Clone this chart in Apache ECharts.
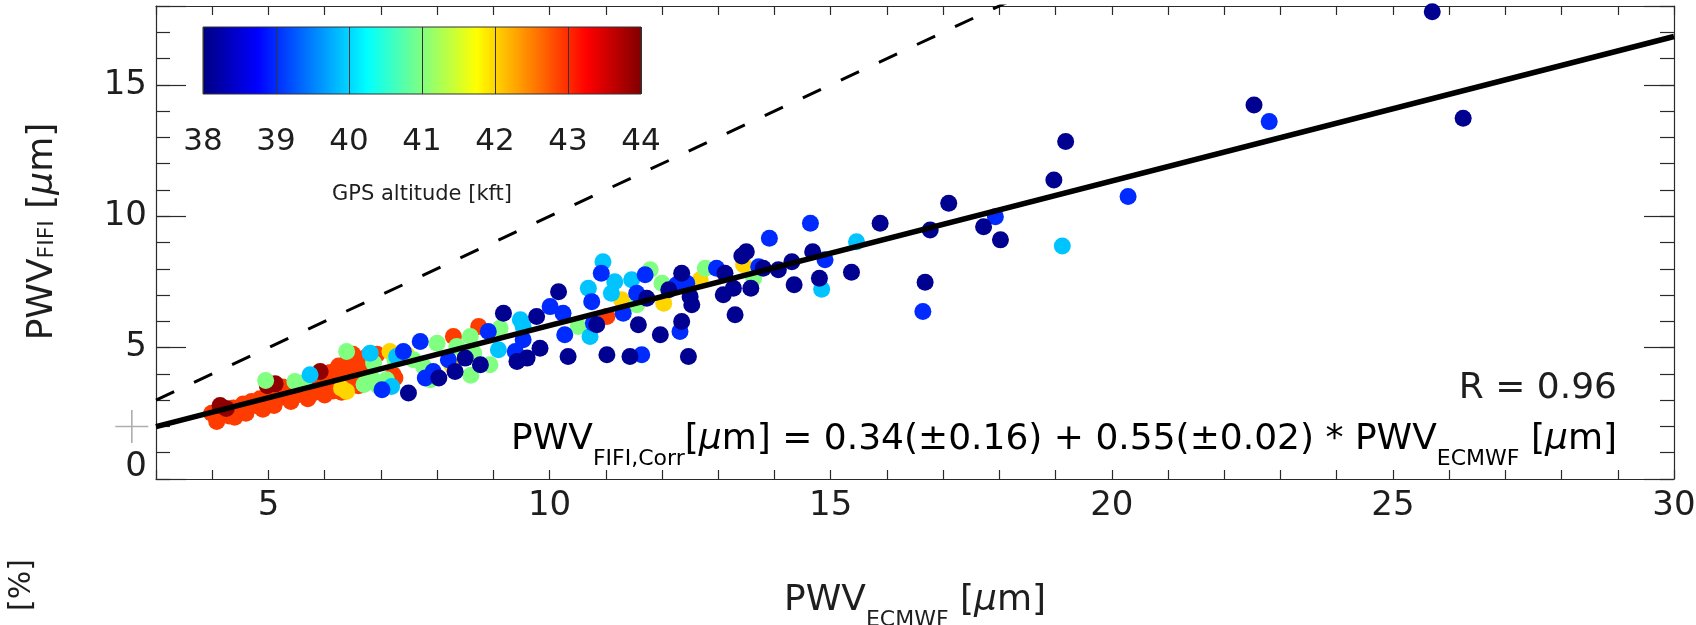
<!DOCTYPE html>
<html>
<head>
<meta charset="utf-8">
<script src="https://cdn.jsdelivr.net/npm/echarts@6/dist/echarts.min.js"></script>
<style>
  html, body { margin: 0; padding: 0; background: #ffffff; }
  #chart { width: 1696px; height: 625px; }
</style>
</head>
<body>
<div id="chart"></div>
<script>
// Precipitable water vapour: ECMWF model (x) vs FIFI-LS retrieval (y), in µm,
// grouped by the GPS altitude (kft) of the aircraft at the time of measurement.

const alt42_9 = [
  [3.99, 2.50], [4.08, 2.19], [4.10, 2.45], [4.22, 2.55], [4.30, 2.40], [4.38, 2.70],
  [4.40, 2.35], [4.45, 2.55], [4.55, 2.85], [4.60, 2.50], [4.62, 2.68], [4.70, 2.95],
  [4.78, 2.80], [4.85, 3.05], [4.90, 2.65], [4.92, 2.90], [5.00, 3.20], [5.05, 3.00],
  [5.10, 2.80], [5.15, 3.30], [5.20, 3.10], [5.25, 3.50], [5.28, 3.45], [5.35, 3.15],
  [5.40, 2.95], [5.42, 3.35], [5.50, 3.20], [5.55, 3.55], [5.62, 3.30], [5.70, 3.45],
  [5.70, 3.05], [5.78, 3.25], [5.85, 3.60], [5.90, 3.40], [5.95, 3.90], [5.98, 3.80],
  [6.00, 3.20], [6.05, 3.50], [6.10, 4.05], [6.15, 3.35], [6.20, 3.75], [6.25, 4.30],
  [6.30, 3.60], [6.30, 3.30], [6.35, 4.00], [6.42, 4.55], [6.48, 3.80], [6.50, 4.75],
  [6.55, 4.25], [6.60, 3.55], [6.65, 4.45], [6.72, 4.00], [6.75, 4.65], [6.80, 3.75],
  [6.93, 4.75], [7.22, 3.97], [7.25, 3.84], [8.29, 5.42], [8.74, 5.80], [11.02, 6.18]
];
const alt43_9 = [[4.14, 2.80], [4.25, 2.68], [4.98, 3.55], [5.12, 3.62], [5.92, 4.09]];
const alt42_0 = [
  [6.39, 3.33], [6.30, 3.45], [7.16, 4.85], [7.46, 4.73], [8.26, 4.35],
  [11.28, 6.82], [12.03, 6.69], [12.68, 7.58], [13.45, 8.15]
];
const alt41_0 = [
  [4.95, 3.75], [5.47, 3.71], [5.62, 3.65], [6.39, 4.85], [6.70, 3.60], [6.84, 3.84],
  [6.87, 4.41], [6.95, 3.55], [7.10, 3.78], [7.25, 4.54], [7.58, 4.54], [7.76, 4.28],
  [7.88, 3.78], [8.00, 5.17], [8.35, 5.04], [8.59, 5.42], [8.60, 3.95], [8.65, 4.79],
  [8.94, 4.35], [9.12, 5.74], [10.51, 5.80], [11.55, 6.63], [11.79, 7.96], [12.00, 7.45],
  [12.77, 8.02], [13.63, 7.64]
];
const alt39_9 = [
  [5.74, 3.97], [6.81, 4.79], [7.19, 3.52], [7.28, 4.66], [9.09, 4.92], [9.48, 6.06],
  [9.53, 5.80], [10.69, 7.26], [10.72, 5.42], [10.95, 8.27], [11.10, 7.07], [11.16, 7.51],
  [11.46, 7.58], [14.84, 7.22], [15.46, 9.03], [19.12, 8.87]
];
const alt39_0 = [
  [7.02, 3.40], [7.40, 4.85], [7.70, 5.23], [7.79, 3.84], [7.93, 4.09], [8.20, 4.54],
  [8.91, 5.61], [9.39, 4.85], [9.53, 5.30], [10.01, 6.56], [10.24, 6.31], [10.27, 5.49],
  [10.75, 6.75], [10.78, 5.93], [10.92, 7.83], [11.31, 6.31], [11.55, 7.07], [11.64, 4.73],
  [11.70, 7.77], [12.26, 7.39], [12.32, 5.61], [12.44, 7.45], [12.97, 8.02], [13.72, 8.08],
  [13.91, 9.16], [14.64, 9.73], [14.90, 8.34], [16.64, 6.37], [17.93, 9.98], [20.29, 10.75],
  [22.80, 13.60]
];
const alt38_1 = [
  [7.49, 3.27], [8.03, 3.84], [8.32, 4.09], [8.50, 4.60], [8.77, 4.35], [9.18, 6.31],
  [9.42, 4.47], [9.60, 4.60], [9.77, 6.18], [9.83, 4.98], [10.16, 7.13], [10.33, 4.66],
  [10.84, 5.87], [11.02, 4.73], [11.43, 4.66], [11.58, 5.87], [11.73, 6.88], [11.97, 5.49],
  [12.12, 7.20], [12.35, 5.99], [12.35, 7.83], [12.47, 4.66], [12.50, 6.94], [12.53, 6.63],
  [13.09, 7.01], [13.12, 7.83], [13.27, 7.26], [13.30, 6.25], [13.42, 8.49], [13.50, 8.65],
  [13.58, 7.26], [13.80, 8.02], [14.07, 7.96], [14.31, 8.27], [14.35, 7.39], [14.68, 8.65],
  [14.80, 7.64], [15.37, 7.87], [15.88, 9.73], [16.68, 7.49], [16.77, 9.48], [17.10, 10.49],
  [17.72, 9.60], [18.02, 9.10], [18.97, 11.38], [19.18, 12.84], [22.53, 14.23], [25.70, 17.78],
  [26.25, 13.73]
];

// drawing order: later groups are painted on top
const altitudeGroups = [
  [42.9, alt42_9], [43.9, alt43_9], [42.0, alt42_0], [41.0, alt41_0],
  [39.9, alt39_9], [39.0, alt39_0], [38.1, alt38_1]
];

// linear fit of FIFI against ECMWF
const fitIntercept = 0.34, fitInterceptErr = 0.16;
const fitSlope = 0.55, fitSlopeErr = 0.02;
const corrR = 0.96;

// axes
const xRange = [3, 30];
const yRange = [0, 18];
const xLabelValues = [5, 10, 15, 20, 25, 30];
const yLabelValues = [0, 5, 10, 15];
const colorbarRange = [38, 44];
const colorbarTicks = [38, 39, 40, 41, 42, 43, 44];

// side marker just left of the frame
const sideMark = [[2.57, 2.0]];

// jet colour table sampled every 1/8
const jetColors = ['#000080', '#0000ff', '#0080ff', '#00ffff', '#80ff80',
                   '#ffff00', '#ff8000', '#ff0000', '#800000'];

const FONT = "'DejaVu Sans', 'Liberation Sans', sans-serif";
const INK = '#1e1e1e';
const FRAME = '#2a2a2a';

const scatterData = [];
altitudeGroups.forEach(([alt, pts]) => pts.forEach(p => scatterData.push([p[0], p[1], alt])));

const fitLine = xRange.map(x => [x, fitIntercept + fitSlope * x]);
const oneToOne = xRange.map(x => [x, x]);

const richBase = {
  m: { fontSize: 36, fontFamily: FONT, color: INK },
  mu: { fontSize: 36, fontFamily: FONT, color: INK, fontStyle: 'italic' },
  s: { fontSize: 22, fontFamily: FONT, color: INK, verticalAlign: 'middle', padding: [38, 0, 0, 0] },
  sy: { fontSize: 22, fontFamily: FONT, color: INK, verticalAlign: 'middle', padding: [8, 0, 0, 0] },
  z: { fontSize: 34, fontFamily: FONT, color: INK, padding: [0, 0, 24, 0] }
};

const fmt = v => v.toFixed(2);
const equationText =
  '{m|PWV}{s|FIFI,Corr}{m|[}{mu|μ}{m|m] = ' + fmt(fitIntercept) + '(±' + fmt(fitInterceptErr) +
  ') + ' + fmt(fitSlope) + '(±' + fmt(fitSlopeErr) + ') * PWV}{s|ECMWF}{m| [}{mu|μ}{m|m]}';

const frameAxis = {
  type: 'value', gridIndex: 0,
  axisLine: { show: true, onZero: false, lineStyle: { color: FRAME, width: 1.2 } },
  axisTick: { show: true, inside: true, lineStyle: { color: FRAME, width: 1.2 } },
  splitLine: { show: false },
  axisLabel: { show: false }
};

const chart = echarts.init(document.getElementById('chart'), null, { renderer: 'canvas' });

chart.setOption({
  backgroundColor: '#ffffff',
  animation: false,
  grid: [
    { left: 156, right: 22, top: 6, bottom: 146, outerBoundsMode: 'none' },
    {
      left: 203, top: 27, width: 438, height: 67, show: true, outerBoundsMode: 'none',
      borderColor: '#333333', borderWidth: 1,
      backgroundColor: new echarts.graphic.LinearGradient(0, 0, 1, 0,
        jetColors.map((c, i) => ({ offset: i / (jetColors.length - 1), color: c })))
    }
  ],
  xAxis: [
    Object.assign({}, frameAxis, {
      position: 'bottom', min: xRange[0], max: xRange[1], interval: 1,
      axisTick: { show: true, inside: true, length: 9, lineStyle: { color: FRAME, width: 1.2 } },
      axisLabel: {
        show: true, margin: 10, fontSize: 34, fontFamily: FONT, color: INK,
        formatter: v => (xLabelValues.includes(v) ? String(v) : '')
      },
      name: '{m|PWV}{s|ECMWF}{m| [}{mu|μ}{m|m]}',
      nameLocation: 'middle', nameGap: 92, nameMoveOverlap: false,
      nameTextStyle: { rich: richBase }
    }),
    Object.assign({}, frameAxis, {
      position: 'top', min: xRange[0], max: xRange[1], interval: 1,
      axisTick: { show: true, inside: true, length: 9, lineStyle: { color: FRAME, width: 1.2 } }
    }),
    {
      type: 'value', gridIndex: 1, position: 'bottom',
      min: colorbarRange[0], max: colorbarRange[1], interval: 1,
      axisLine: { show: false }, axisTick: { show: false },
      splitLine: { show: true, lineStyle: { color: '#333333', width: 1 } },
      axisLabel: {
        show: true, margin: 32, fontSize: 31, fontFamily: FONT, color: INK,
        formatter: v => (colorbarTicks.includes(v) ? String(v) : '')
      },
      name: 'GPS altitude [kft]', nameLocation: 'middle', nameGap: 90, nameMoveOverlap: false,
      nameTextStyle: { fontSize: 21, fontFamily: FONT, color: INK }
    }
  ],
  yAxis: [
    Object.assign({}, frameAxis, {
      position: 'left', min: yRange[0], max: yRange[1], interval: 1,
      axisTick: { show: true, inside: true, length: 14, lineStyle: { color: FRAME, width: 1.2 } },
      axisLabel: {
        show: true, margin: 9, fontSize: 34, fontFamily: FONT, color: INK,
        formatter: v => (v === 0 ? '{z|0}' : (yLabelValues.includes(v) ? String(v) : '')),
        rich: { z: richBase.z }
      },
      name: '{m|PWV}{sy|FIFI}{m| [}{mu|μ}{m|m]}',
      nameLocation: 'middle', nameGap: 95, nameMoveOverlap: false,
      nameTextStyle: { rich: richBase, padding: [0, 0, 0, 22] }
    }),
    Object.assign({}, frameAxis, {
      position: 'left', min: yRange[0], max: yRange[1], interval: 5,
      axisLine: { show: false },
      axisTick: { show: true, inside: true, length: 30, lineStyle: { color: FRAME, width: 1.2 } }
    }),
    Object.assign({}, frameAxis, {
      position: 'right', min: yRange[0], max: yRange[1], interval: 1,
      axisTick: { show: true, inside: true, length: 14, lineStyle: { color: FRAME, width: 1.2 } }
    }),
    Object.assign({}, frameAxis, {
      position: 'right', min: yRange[0], max: yRange[1], interval: 5,
      axisLine: { show: false },
      axisTick: { show: true, inside: true, length: 30, lineStyle: { color: FRAME, width: 1.2 } }
    }),
    { type: 'value', gridIndex: 1, min: 0, max: 1, show: false }
  ],
  visualMap: {
    type: 'continuous', show: false, seriesIndex: 0, dimension: 2,
    min: colorbarRange[0], max: colorbarRange[1],
    inRange: { color: jetColors }
  },
  series: [
    {
      name: 'PWV', type: 'scatter', xAxisIndex: 0, yAxisIndex: 0,
      data: scatterData, symbol: 'circle', symbolSize: 17, z: 2,
      itemStyle: { opacity: 1 }
    },
    {
      name: 'fit', type: 'line', xAxisIndex: 0, yAxisIndex: 0, data: fitLine,
      symbol: 'none', z: 4, silent: true,
      lineStyle: { color: '#000000', width: 5.5 }
    },
    {
      name: '1:1', type: 'line', xAxisIndex: 0, yAxisIndex: 0, data: oneToOne,
      symbol: 'none', z: 4, silent: true, clip: true,
      lineStyle: { color: '#000000', width: 3, type: [20, 22] }
    },
    {
      name: 'side mark', type: 'scatter', xAxisIndex: 0, yAxisIndex: 0, data: sideMark,
      symbol: 'path://M0,16.5L33,16.5M16.5,0L16.5,33', symbolSize: 33, clip: false, z: 3,
      silent: true,
      itemStyle: { color: 'rgba(0,0,0,0)', borderColor: '#9a9a9a', borderWidth: 1.6 }
    }
  ],
  graphic: [
    {
      type: 'text', right: 79, top: 371, z: 10,
      style: { text: 'R = ' + corrR.toFixed(2), fontSize: 36, fontFamily: FONT, fill: INK }
    },
    {
      type: 'text', x: 1617, y: 440, z: 10,
      style: {
        text: equationText, align: 'right', verticalAlign: 'middle', rich: richBase
      }
    },
    {
      type: 'text', x: 22, y: 585, rotation: Math.PI / 2, z: 10,
      style: { text: '[%]', fontSize: 30, fontFamily: FONT, fill: INK, align: 'center', verticalAlign: 'middle' }
    }
  ]
});
</script>
</body>
</html>
